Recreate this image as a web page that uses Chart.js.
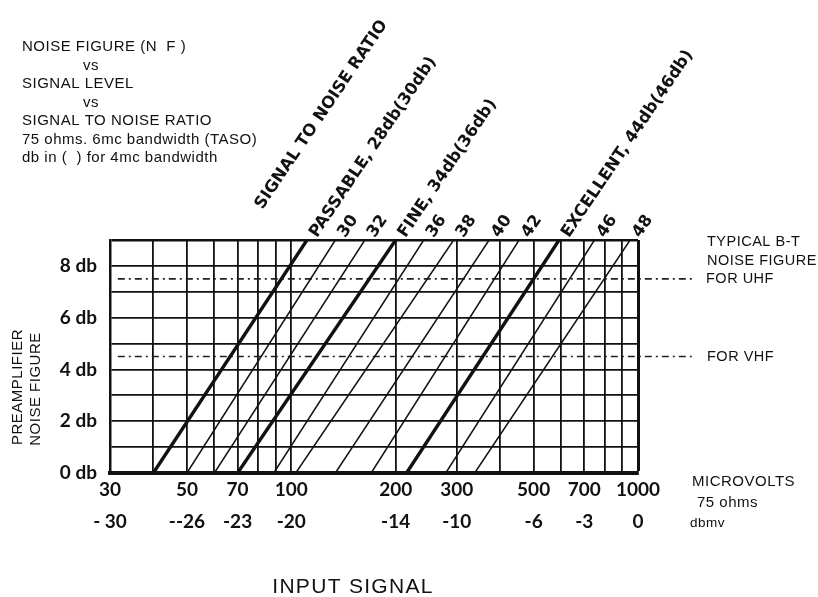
<!DOCTYPE html>
<html>
<head>
<meta charset="utf-8">
<script src="https://cdn.jsdelivr.net/npm/chart.js@4.4.1/dist/chart.umd.min.js"></script>
<style>
  html, body { margin: 0; padding: 0; background: #fff; }
  #wrap { width: 818px; height: 597px; position: relative; }
</style>
</head>
<body>
<div id="wrap"><canvas id="noiseChart"></canvas></div>
<script>
// S/N lines: microvolts where each line meets 0 db and 9 db
const snRatios = [28, 30, 32, 34, 36, 38, 40, 42, 44, 46, 48];
const startMicrovolts = [40, 50, 60, 70, 89, 103, 134, 170, 215, 279, 338];
const endMicrovolts = [111, 134, 163, 200, 241, 294, 372, 454, 592, 749, 949];
const heavyRatios = [28, 34, 44];
const ratioLabels = ["PASSABLE, 28db(30db)", "30", "32", "FINE, 34db(36db)", "36", "38",
                     "40", "42", "EXCELLENT, 44db(46db)", "46", "48"];

// typical B-T preamp noise figure (dashed lines)
const bandNames = ["UHF", "VHF"];
const bandNoiseFigures = [7.5, 4.5];
const dashedFromMicrovolts = 31.6;
const dashedToMicrovolts = 1440;

// axes
const gridMicrovolts = [30, 40, 50, 60, 70, 80, 90, 100, 200, 300, 400, 500, 600, 700, 800, 900, 1000];
const tickMicrovolts = [30, 50, 70, 100, 200, 300, 500, 700, 1000];
const tickDbmv = ["- 30", "--26", "-23", "-20", "-14", "-10", "-6", "-3", "0"];
const noiseFigureMax = 9;

const titleLines = ["NOISE FIGURE (N  F )", "vs", "SIGNAL LEVEL", "vs",
                    "SIGNAL TO NOISE RATIO", "75 ohms. 6mc bandwidth (TASO)",
                    "db in (  ) for 4mc bandwidth"];

/* -------------------------
   DATASETS
--------------------------*/

const datasets = [];

snRatios.forEach((sn, i) => {
    const heavy = heavyRatios.includes(sn);
    datasets.push({
        label: "S/N " + sn,
        data: [
            { x: startMicrovolts[i], y: 0 },
            { x: endMicrovolts[i], y: noiseFigureMax }
        ],
        borderColor: "#111",
        borderWidth: heavy ? 3.4 : 1.5,
        pointRadius: 0,
        fill: false,
        tension: 0
    });
});

bandNoiseFigures.forEach((nf, i) => {
    datasets.push({
        label: bandNames[i],
        data: [
            { x: dashedFromMicrovolts, y: nf },
            { x: dashedToMicrovolts, y: nf }
        ],
        borderColor: "#222",
        borderWidth: 1.6,
        borderDash: [7, 4, 2, 4],
        pointRadius: 0,
        fill: false,
        clip: false
    });
});

/* -------------------------
   TEXT ON THE PICTURE
--------------------------*/

const ANGLE = -56 * Math.PI / 180;

const annotations = {
    id: "annotations",
    afterDraw(chart) {
        const ctx = chart.ctx;
        const xs = chart.scales.x;
        const ys = chart.scales.y;

        ctx.save();
        ctx.fillStyle = "#111";
        ctx.textBaseline = "middle";
        ctx.textAlign = "left";

        // title block
        const titleY = [47, 66, 84, 103, 121, 140, 158];
        ctx.font = "15px 'Liberation Sans'";
        ctx.letterSpacing = "0.5px";
        titleLines.forEach((t, i) => {
            const x = t === "vs" ? 83 : 22;
            ctx.fillText(t, x, titleY[i]);
        });

        // diagonal labels at the top end of each S/N line
        const topY = ys.getPixelForValue(noiseFigureMax);
        ctx.letterSpacing = "0px";
        snRatios.forEach((sn, i) => {
            const tx = xs.getPixelForValue(endMicrovolts[i]);
            ctx.save();
            ctx.translate(tx, topY);
            ctx.rotate(ANGLE);
            ctx.font = "bold 16.5px 'DejaVu Sans'";
            ctx.fillText(ratioLabels[i], 7, 3);
            if (i === 0) {
                ctx.fillText("SIGNAL TO NOISE RATIO", 0, -58);
            }
            ctx.restore();
        });

        // right hand notes
        ctx.font = "14.5px 'Liberation Sans'";
        ctx.letterSpacing = "0.5px";
        const uhfY = ys.getPixelForValue(bandNoiseFigures[0]);
        const vhfY = ys.getPixelForValue(bandNoiseFigures[1]);
        ctx.fillText("TYPICAL B-T", 707, uhfY - 37);
        ctx.fillText("NOISE FIGURE", 707, uhfY - 18);
        ctx.fillText("FOR UHF", 706, uhfY);
        ctx.fillText("FOR VHF", 707, vhfY);

        // unit notes beside the x tick rows
        ctx.font = "15px 'Liberation Sans'";
        ctx.fillText("MICROVOLTS", 692, 482);
        ctx.fillText("75 ohms", 697, 503);
        ctx.font = "13.5px 'Liberation Sans'";
        ctx.fillText("dbmv", 690, 523);

        // x title
        ctx.font = "21px 'Liberation Sans'";
        ctx.letterSpacing = "1.3px";
        ctx.textAlign = "center";
        ctx.fillText("INPUT SIGNAL", 353, 587);

        // y title
        ctx.font = "15px 'Liberation Sans'";
        ctx.letterSpacing = "0.5px";
        ctx.save();
        ctx.translate(18, 387);
        ctx.rotate(-Math.PI / 2);
        ctx.fillText("PREAMPLIFIER", 0, 0);
        ctx.restore();
        ctx.save();
        ctx.translate(36, 389);
        ctx.rotate(-Math.PI / 2);
        ctx.fillText("NOISE FIGURE", 0, 0);
        ctx.restore();

        ctx.restore();
    }
};

/* -------------------------
   CHART
--------------------------*/

new Chart(document.getElementById("noiseChart"), {
    type: "line",
    data: { datasets: datasets },
    options: {
        responsive: true,
        maintainAspectRatio: false,
        animation: false,
        layout: { padding: { left: 0, top: 240, right: 180, bottom: 0 } },
        plugins: {
            legend: { display: false },
            tooltip: { enabled: false }
        },
        scales: {
            x: {
                type: "logarithmic",
                min: 30,
                max: 1000,
                afterBuildTicks: scale => {
                    scale.ticks = gridMicrovolts.map(v => ({ value: v }));
                },
                afterFit: scale => { scale.height = 124; },
                grid: {
                    color: "#111",
                    lineWidth: c => (c.tick && c.tick.value === 1000) ? 3 : 1.8,
                    drawTicks: false
                },
                border: { color: "#111", width: 4 },
                ticks: {
                    autoSkip: false,
                    maxRotation: 0,
                    minRotation: 0,
                    padding: 1,
                    color: "#111",
                    font: { family: "Lato", weight: "bold", size: 19, lineHeight: 1.68 },
                    callback: value => {
                        const i = tickMicrovolts.indexOf(value);
                        return i >= 0 ? [String(value), tickDbmv[i]] : "";
                    }
                }
            },
            y: {
                type: "linear",
                min: 0,
                max: noiseFigureMax,
                afterFit: scale => { scale.width = 110; },
                grid: {
                    color: "#111",
                    lineWidth: c => (c.tick && c.tick.value === noiseFigureMax) ? 2.6 : 1.8,
                    drawTicks: false
                },
                border: { color: "#111", width: 2.5 },
                ticks: {
                    stepSize: 1,
                    autoSkip: false,
                    padding: 13,
                    color: "#111",
                    font: { family: "Lato", weight: "bold", size: 19 },
                    callback: value => value % 2 === 0 ? value + " db" : ""
                }
            }
        }
    },
    plugins: [annotations]
});
</script>
</body>
</html>
